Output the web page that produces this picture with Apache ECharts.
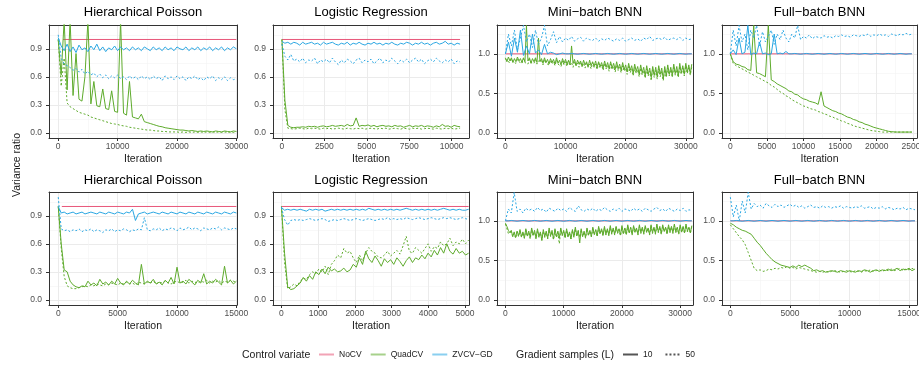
<!DOCTYPE html>
<html><head><meta charset="utf-8">
<script src="https://cdn.jsdelivr.net/npm/echarts@6/dist/echarts.min.js"></script>
<style>html,body{margin:0;padding:0;background:#fff}#c{width:919px;height:368px}</style>
</head><body><div id="c"></div>
<script>
// ---------------- DATA ----------------
const cvNames = ['NoCV', 'QuadCV', 'ZVCV\u2212GD'];
const lNames = ['10', '50'];
const panelTitles = ['Hierarchical Poisson', 'Logistic Regression', 'Mini\u2212batch BNN', 'Full\u2212batch BNN',
                     'Hierarchical Poisson', 'Logistic Regression', 'Mini\u2212batch BNN', 'Full\u2212batch BNN'];
// iteration spacing of the recorded values in each panel
const quadStep = [500, 175, 250, 400, 250, 85, 250, 250];
const zvStep = [500, 175, 500, 400, 250, 85, 500, 250];
// NoCV is constant at 1 over this iteration span
const nocvSpan = [[800, 30000], [0, 10500], [0, 31000], [0, 24800], [300, 15000], [0, 5100], [0, 32000], [0, 15500]];
const nocvValue = 1;
// axis tick labels
const xTicks = [
  [0, 10000, 20000, 30000], [0, 2500, 5000, 7500, 10000], [0, 10000, 20000, 30000], [0, 5000, 10000, 15000, 20000, 25000],
  [0, 5000, 10000, 15000], [0, 1000, 2000, 3000, 4000, 5000], [0, 10000, 20000, 30000], [0, 5000, 10000, 15000]];
const xMinorTicks = [
  [5000, 15000, 25000], [1250, 3750, 6250, 8750], [5000, 15000, 25000], [2500, 7500, 12500, 17500, 22500],
  [2500, 7500, 12500], [500, 1500, 2500, 3500, 4500], [5000, 15000, 25000], [2500, 7500, 12500]];
const xMin = [-1550, -525, -1400, -1130, -780, -230, -1450, -700];
const xMax = [30100, 11025, 31200, 25500, 15050, 5110, 32200, 15670];
const yTicksA = [0, 0.3, 0.6, 0.9], yMinorA = [0.15, 0.45, 0.75, 1.05];
const yTicksB = [0, 0.5, 1.0], yMinorB = [0.25, 0.75, 1.25];

// Panel 1: Hierarchical Poisson (top)
const hp1Quad10 = [1.0,0.62,1.2,0.46,1.2,0.40,0.85,0.36,0.34,0.60,1.2,0.31,0.55,0.29,0.28,0.47,0.26,0.25,0.45,0.23,0.22,1.2,0.21,0.19,0.55,0.17,0.16,0.15,0.20,0.12,0.11,0.10,0.09,0.08,0.07,0.065,0.055,0.05,0.045,0.04,0.035,0.03,0.03,0.025,0.02,0.025,0.02,0.015,0.02,0.015,0.02,0.015,0.01,0.02,0.015,0.01,0.02,0.015,0.01,0.02,0.015];
const hp1Quad50 = [1.0,0.50,0.80,0.32,0.28,0.26,0.24,0.22,0.21,0.20,0.19,0.17,0.16,0.15,0.14,0.13,0.12,0.11,0.10,0.095,0.09,0.08,0.075,0.07,0.06,0.055,0.05,0.045,0.04,0.035,0.03,0.03,0.025,0.02,0.02,0.015,0.015,0.01,0.01,0.01,0.01,0.005,0.01,0.005,0.01,0.005,0.01,0.005,0.01,0.005,0.01,0.005,0.01,0.005,0.01,0.005,0.01,0.005,0.01,0.005,0.01];
const hp1Zv10 = [1.02,0.93,0.88,0.95,0.87,0.92,0.86,0.94,0.89,0.91,0.87,0.93,0.89,0.95,0.88,0.92,0.87,0.91,0.89,0.93,0.88,0.92,0.89,0.91,0.88,0.92,0.89,0.91,0.88,0.92,0.90,0.88,0.92,0.89,0.91,0.88,0.92,0.89,0.91,0.88,0.92,0.90,0.89,0.92,0.88,0.91,0.89,0.92,0.88,0.91,0.89,0.92,0.88,0.91,0.89,0.92,0.88,0.91,0.89,0.92,0.90];
const hp1Zv50 = [1.05,0.80,0.74,0.72,0.70,0.67,0.69,0.65,0.68,0.63,0.66,0.62,0.64,0.60,0.63,0.59,0.62,0.58,0.61,0.59,0.62,0.58,0.60,0.57,0.61,0.58,0.60,0.57,0.61,0.58,0.60,0.57,0.61,0.58,0.60,0.56,0.61,0.58,0.60,0.57,0.61,0.58,0.60,0.56,0.60,0.58,0.61,0.57,0.59,0.56,0.60,0.58,0.61,0.56,0.59,0.57,0.60,0.56,0.59,0.57,0.58];

// Panel 2: Logistic Regression (top)
const lr1Quad10 = [1.0,0.35,0.08,0.06,0.055,0.06,0.06,0.065,0.06,0.07,0.065,0.07,0.06,0.07,0.075,0.065,0.07,0.08,0.07,0.075,0.08,0.07,0.09,0.075,0.08,0.16,0.07,0.08,0.075,0.085,0.07,0.08,0.065,0.075,0.08,0.07,0.075,0.065,0.08,0.07,0.075,0.06,0.07,0.08,0.065,0.075,0.07,0.08,0.065,0.075,0.07,0.06,0.075,0.065,0.09,0.07,0.075,0.06,0.08,0.07,0.065];
const lr1Quad50 = [1.0,0.25,0.05,0.045,0.04,0.045,0.05,0.045,0.04,0.05,0.045,0.05,0.045,0.04,0.05,0.045,0.05,0.04,0.045,0.05,0.045,0.04,0.05,0.045,0.04,0.05,0.045,0.05,0.04,0.045,0.05,0.045,0.04,0.05,0.045,0.05,0.04,0.045,0.05,0.045,0.04,0.05,0.045,0.04,0.05,0.045,0.05,0.04,0.045,0.05,0.045,0.04,0.05,0.045,0.04,0.05,0.045,0.05,0.04,0.045,0.05];
const lr1Zv10 = [0.98,0.96,0.97,0.95,0.97,0.96,0.94,0.97,0.95,0.96,0.97,0.95,0.96,0.94,0.97,0.95,0.96,0.97,0.95,0.94,0.96,0.95,0.97,0.94,0.96,0.95,0.97,0.95,0.94,0.96,0.95,0.97,0.95,0.96,0.94,0.96,0.95,0.97,0.95,0.94,0.96,0.95,0.97,0.96,0.94,0.96,0.95,0.97,0.95,0.96,0.94,0.96,0.97,0.95,0.96,0.98,0.95,0.96,0.94,0.96,0.95];
const lr1Zv50 = [0.95,0.82,0.78,0.84,0.77,0.79,0.76,0.80,0.75,0.78,0.77,0.80,0.74,0.78,0.76,0.79,0.75,0.80,0.76,0.73,0.78,0.75,0.79,0.77,0.74,0.78,0.80,0.75,0.78,0.76,0.79,0.74,0.77,0.80,0.75,0.78,0.76,0.80,0.77,0.74,0.78,0.76,0.79,0.75,0.78,0.80,0.76,0.79,0.74,0.77,0.79,0.76,0.80,0.77,0.75,0.78,0.76,0.79,0.74,0.77,0.76];

// Panel 3: Mini-batch BNN (top)
const mb1Quad10 = [0.95,0.9,0.96,0.91,0.95,0.89,0.94,0.9,0.96,0.91,
  0.94,0.89,0.95,0.9,1.36,0.91,0.95,0.88,0.94,0.9,
  0.95,0.89,1.2,0.9,0.94,0.88,0.95,0.89,0.93,0.87,
  0.94,0.89,0.93,0.87,0.95,0.88,0.92,0.86,0.94,0.88,
  0.93,0.87,0.92,0.86,1.1,0.88,0.93,0.85,0.92,0.87,
  0.91,0.84,0.92,0.86,0.9,0.83,0.92,0.85,0.9,0.84,
  0.91,0.83,0.9,0.84,0.89,0.82,0.91,0.83,0.89,0.81,
  0.9,0.82,0.88,0.8,0.9,0.81,0.87,0.79,0.89,0.8,
  0.86,0.77,0.88,0.79,0.85,0.75,0.87,0.78,0.84,0.74,
  0.86,0.76,0.83,0.72,0.85,0.74,0.82,0.7,0.84,0.73,
  0.83,0.71,0.85,0.74,0.82,0.68,0.84,0.72,0.86,0.74,
  0.83,0.73,0.87,0.75,0.84,0.72,0.88,0.76,0.85,0.74,
  0.88,0.77,0.86,0.75,0.87];
const mb1Quad50 = [0.94,0.91,0.93,0.89,0.94,0.9,0.92,0.88,0.93,0.9,
  0.92,0.88,0.94,0.89,0.91,0.87,0.93,0.89,0.91,0.88,
  0.93,0.87,0.91,0.89,0.92,0.86,0.93,0.88,0.9,0.86,
  0.92,0.87,0.9,0.85,0.92,0.87,0.89,0.84,0.91,0.86,
  0.9,0.84,0.91,0.86,0.89,0.83,0.9,0.85,0.88,0.83,
  0.9,0.84,0.88,0.82,0.89,0.84,0.87,0.81,0.89,0.83,
  0.87,0.8,0.88,0.82,0.86,0.79,0.88,0.81,0.85,0.78,
  0.87,0.8,0.84,0.77,0.86,0.79,0.83,0.76,0.85,0.78,
  0.82,0.74,0.84,0.76,0.81,0.72,0.83,0.75,0.8,0.71,
  0.82,0.73,0.79,0.69,0.81,0.72,0.78,0.66,0.8,0.7,
  0.79,0.68,0.81,0.71,0.78,0.66,0.8,0.7,0.82,0.72,
  0.8,0.7,0.83,0.73,0.8,0.7,0.84,0.74,0.82,0.72,
  0.85,0.75,0.83,0.73,0.84];
const mb1Zv10 = [1.0,1.15,0.97,1.2,1.02,1.3,0.98,1.1,1.0,1.25,1.01,1.05,0.99,1.12,1.0,1.02,1.01,0.99,1.0,1.01,1.0,1.0,1.005,1.0,0.995,1.0,1.005,1.0,0.995,1.0,1.005,1.0,0.995,1.0,1.005,1.0,0.995,1.0,1.005,1.0,0.995,1.0,1.005,1.0,0.995,1.0,1.005,1.0,0.995,1.0,1.005,1.0,0.995,1.0,1.005,1.0,0.995,1.0,1.005,1.0,0.995,1.0,1.0];
const mb1Zv50 = [1.0,1.25,1.1,1.3,1.05,1.2,1.36,1.15,1.25,1.08,1.3,1.12,1.2,1.36,1.1,1.18,1.28,1.14,1.22,1.15,1.2,1.17,1.22,1.16,1.19,1.21,1.16,1.2,1.18,1.17,1.2,1.16,1.19,1.17,1.2,1.18,1.16,1.19,1.17,1.2,1.16,1.18,1.2,1.17,1.19,1.16,1.2,1.18,1.22,1.17,1.19,1.2,1.18,1.21,1.17,1.19,1.2,1.18,1.21,1.17,1.2,1.18,1.19];

// Panel 4: Full-batch BNN (top)
const fb1Quad10 = [1.0,0.9,0.87,0.86,0.84,0.83,0.8,0.79,1.36,0.76,0.75,0.73,0.71,1.36,0.67,0.65,0.62,0.6,0.58,0.56,0.53,0.52,0.49,0.48,0.45,0.43,0.42,0.4,0.39,0.38,0.36,0.52,0.34,0.32,0.3,0.28,0.27,0.25,0.24,0.22,0.2,0.19,0.17,0.16,0.14,0.13,0.11,0.1,0.085,0.07,0.06,0.05,0.04,0.03,0.02,0.015,0.012,0.01,0.01,0.01,0.01,0.01,0.01];
const fb1Quad50 = [1.0,0.88,0.85,0.83,0.81,0.79,0.77,0.75,0.73,0.71,0.69,0.67,0.65,0.63,0.6,0.58,0.55,0.52,0.5,0.47,0.45,0.42,0.4,0.38,0.36,0.34,0.33,0.31,0.3,0.29,0.27,0.26,0.24,0.23,0.21,0.2,0.18,0.17,0.15,0.14,0.12,0.11,0.09,0.08,0.07,0.06,0.05,0.04,0.03,0.025,0.02,0.015,0.01,0.01,0.01,0.01,0.01,0.01,0.01,0.01,0.01,0.01,0.01];
const fb1Zv10 = [1.0,1.05,0.99,1.2,1.0,1.02,1.36,0.99,1.01,1.0,1.15,1.0,1.01,0.99,1.0,1.25,1.0,1.01,1.0,1.03,1.0,1.0,1.005,1.0,0.995,1.0,1.005,1.0,0.995,1.0,1.005,1.0,0.995,1.0,1.005,1.0,0.995,1.0,1.005,1.0,0.995,1.0,1.005,1.0,0.995,1.0,1.005,1.0,0.995,1.0,1.005,1.0,0.995,1.0,1.005,1.0,0.995,1.0,1.005,1.0,0.995,1.0,1.0];
const fb1Zv50 = [1.0,1.3,1.1,1.36,1.15,1.25,1.05,1.3,1.2,1.36,1.1,1.28,1.15,1.22,1.3,1.12,1.25,1.18,1.3,1.2,1.15,1.25,1.2,1.36,1.18,1.22,1.2,1.24,1.19,1.22,1.21,1.2,1.23,1.21,1.22,1.2,1.23,1.22,1.24,1.22,1.23,1.21,1.24,1.23,1.22,1.24,1.23,1.25,1.22,1.24,1.23,1.25,1.23,1.24,1.22,1.25,1.24,1.23,1.25,1.24,1.26,1.24,1.25];

// Panel 5: Hierarchical Poisson (bottom)
const hp2Quad10 = [1.0,0.6,0.32,0.3,0.2,0.16,0.14,0.13,0.15,0.14,0.2,0.16,0.18,0.15,0.22,0.17,0.19,0.16,0.2,0.17,0.23,0.18,0.16,0.2,0.17,0.21,0.18,0.16,0.38,0.17,0.2,0.18,0.22,0.17,0.19,0.16,0.21,0.18,0.24,0.17,0.35,0.18,0.2,0.17,0.22,0.19,0.16,0.21,0.18,0.28,0.17,0.2,0.18,0.22,0.19,0.16,0.36,0.18,0.21,0.17,0.2];
const hp2Quad50 = [1.0,0.55,0.25,0.15,0.13,0.12,0.12,0.13,0.14,0.15,0.14,0.16,0.15,0.17,0.16,0.15,0.17,0.16,0.18,0.17,0.16,0.18,0.17,0.19,0.17,0.18,0.16,0.19,0.18,0.17,0.19,0.18,0.2,0.17,0.19,0.18,0.2,0.18,0.17,0.19,0.2,0.18,0.19,0.21,0.18,0.2,0.19,0.18,0.2,0.19,0.21,0.18,0.2,0.19,0.21,0.18,0.2,0.19,0.21,0.2,0.19];
const hp2Zv10 = [1.0,0.93,0.94,0.92,0.93,0.94,0.92,0.93,0.94,0.92,0.93,0.94,0.93,0.92,0.94,0.93,0.92,0.94,0.93,0.92,0.94,0.93,0.92,0.94,0.93,0.97,0.85,0.92,0.93,0.94,0.92,0.93,0.94,0.93,0.92,0.94,0.93,0.92,0.94,0.93,0.92,0.94,0.93,0.92,0.94,0.93,0.92,0.94,0.93,0.92,0.94,0.93,0.92,0.94,0.93,0.92,0.94,0.93,0.92,0.94,0.93];
const hp2Zv50 = [1.1,0.76,0.74,0.75,0.73,0.75,0.74,0.76,0.73,0.75,0.74,0.76,0.73,0.75,0.74,0.72,0.75,0.74,0.76,0.73,0.75,0.74,0.76,0.75,0.73,0.75,0.74,0.76,0.75,0.88,0.75,0.74,0.76,0.75,0.77,0.74,0.76,0.75,0.77,0.76,0.74,0.77,0.75,0.76,0.78,0.75,0.77,0.76,0.74,0.77,0.76,0.75,0.77,0.76,0.78,0.75,0.77,0.76,0.75,0.77,0.76];

// Panel 6: Logistic Regression (bottom)
const lr2Quad10 = [1.0,0.5,0.14,0.11,0.12,0.15,0.18,0.24,0.2,0.26,0.22,0.3,0.27,0.33,0.28,0.35,0.31,0.33,0.3,0.31,0.34,0.3,0.32,0.38,0.35,0.45,0.38,0.52,0.44,0.4,0.47,0.42,0.36,0.44,0.4,0.43,0.38,0.45,0.41,0.36,0.42,0.46,0.4,0.45,0.43,0.48,0.44,0.5,0.46,0.53,0.48,0.56,0.5,0.6,0.52,0.49,0.55,0.5,0.52,0.48,0.5];
const lr2Quad50 = [1.0,0.4,0.12,0.14,0.17,0.15,0.2,0.23,0.22,0.27,0.3,0.28,0.33,0.3,0.36,0.27,0.38,0.42,0.48,0.45,0.55,0.5,0.52,0.45,0.4,0.48,0.42,0.5,0.56,0.52,0.5,0.46,0.45,0.48,0.52,0.47,0.5,0.53,0.49,0.58,0.68,0.52,0.5,0.56,0.53,0.5,0.55,0.6,0.52,0.57,0.55,0.62,0.58,0.6,0.66,0.58,0.62,0.6,0.65,0.6,0.64];
const lr2Zv10 = [0.99,0.96,0.97,0.96,0.97,0.96,0.97,0.96,0.95,0.97,0.96,0.97,0.96,0.97,0.95,0.96,0.97,0.96,0.97,0.96,0.97,0.96,0.97,0.96,0.97,0.96,0.97,0.96,0.98,0.97,0.96,0.97,0.96,0.97,0.96,0.97,0.96,0.97,0.96,0.97,0.98,0.97,0.96,0.97,0.96,0.97,0.96,0.97,0.96,0.97,0.96,0.97,0.98,0.97,0.96,0.97,0.96,0.97,0.96,0.96,0.97];
const lr2Zv50 = [0.99,0.86,0.8,0.85,0.86,0.85,0.86,0.85,0.86,0.87,0.86,0.85,0.86,0.87,0.86,0.84,0.85,0.86,0.85,0.86,0.87,0.86,0.85,0.86,0.87,0.86,0.85,0.86,0.87,0.86,0.85,0.86,0.87,0.86,0.88,0.86,0.87,0.86,0.87,0.86,0.88,0.87,0.86,0.87,0.88,0.87,0.86,0.87,0.88,0.87,0.86,0.87,0.88,0.87,0.88,0.87,0.86,0.87,0.88,0.87,0.86];

// Panel 7: Mini-batch BNN (bottom)
const mb2Quad10 = [0.97,0.93,0.88,0.85,0.88,0.8,0.86,0.79,0.87,0.81,
  0.89,0.8,0.86,0.78,0.9,0.81,0.87,0.79,0.91,0.82,
  0.88,0.78,0.9,0.8,0.86,0.75,0.89,0.8,0.87,0.78,
  0.91,0.81,0.88,0.77,0.9,0.8,0.87,0.78,0.91,0.82,
  0.88,0.79,0.9,0.8,0.86,0.77,0.89,0.8,0.92,0.81,
  0.88,0.72,0.9,0.8,0.87,0.79,0.91,0.82,0.88,0.8,
  0.92,0.83,0.89,0.81,0.93,0.84,0.9,0.82,0.93,0.83,
  0.9,0.82,0.94,0.84,0.91,0.83,0.93,0.85,0.9,0.82,
  0.94,0.84,0.91,0.83,0.95,0.85,0.92,0.83,0.94,0.86,
  0.91,0.83,0.95,0.85,0.92,0.84,0.94,0.86,0.91,0.83,
  0.95,0.85,0.92,0.84,0.96,0.86,0.93,0.84,0.95,0.87,
  0.92,0.84,0.95,0.86,0.93,0.85,0.96,0.86,0.92,0.84,
  0.95,0.86,0.93,0.85,0.96,0.87,0.92,0.85,0.94];
const mb2Quad50 = [0.96,0.9,0.84,0.82,0.86,0.8,0.84,0.78,0.86,0.8,
  0.87,0.79,0.85,0.78,0.88,0.8,0.85,0.77,0.89,0.81,
  0.86,0.77,0.88,0.79,0.85,0.76,0.87,0.79,0.85,0.77,
  0.89,0.8,0.86,0.76,0.88,0.79,0.85,0.71,0.89,0.81,
  0.86,0.78,0.88,0.79,0.85,0.77,0.88,0.79,0.9,0.8,
  0.87,0.79,0.89,0.8,0.86,0.78,0.9,0.81,0.87,0.8,
  0.9,0.82,0.88,0.8,0.91,0.83,0.89,0.81,0.91,0.82,
  0.89,0.81,0.92,0.83,0.9,0.82,0.92,0.84,0.89,0.81,
  0.92,0.83,0.9,0.82,0.93,0.84,0.91,0.82,0.92,0.85,
  0.9,0.82,0.93,0.84,0.91,0.83,0.92,0.85,0.9,0.82,
  0.93,0.84,0.91,0.83,0.94,0.85,0.92,0.83,0.93,0.86,
  0.91,0.83,0.93,0.85,0.92,0.84,0.94,0.85,0.91,0.83,
  0.93,0.85,0.92,0.84,0.94,0.86,0.91,0.84,0.93];
const mb2Zv10 = [1.0,1.0,1.005,1.0,0.995,1.0,1.005,1.0,0.995,1.0,1.005,1.0,0.995,1.0,1.005,1.0,0.995,1.0,1.005,1.0,0.995,1.0,1.005,1.0,0.995,1.0,1.005,1.0,0.995,1.0,1.005,1.0,0.995,1.0,1.005,1.0,0.995,1.0,1.005,1.0,0.995,1.0,1.005,1.0,0.995,1.0,1.005,1.0,0.995,1.0,1.005,1.0,0.995,1.0,1.005,1.0,0.995,1.0,1.005,1.0,0.995,1.0,1.005,1.0,1.0];
const mb2Zv50 = [1.0,1.15,1.1,1.36,1.12,1.15,1.1,1.16,1.13,1.15,1.12,1.17,1.13,1.15,1.11,1.16,1.14,1.12,1.16,1.13,1.15,1.12,1.17,1.14,1.12,1.19,1.14,1.12,1.15,1.13,1.16,1.12,1.15,1.13,1.17,1.14,1.12,1.15,1.13,1.16,1.12,1.15,1.14,1.12,1.16,1.13,1.15,1.12,1.16,1.14,1.12,1.15,1.17,1.13,1.15,1.12,1.16,1.14,1.12,1.15,1.13,1.16,1.12,1.14,1.13];

// Panel 8: Full-batch BNN (bottom)
const fb2Quad10 = [0.97,0.95,0.92,0.9,0.88,0.87,0.85,0.83,0.78,0.73,0.69,0.64,0.59,0.55,0.51,0.48,0.46,0.44,0.43,0.42,0.41,0.43,0.41,0.44,0.42,0.44,0.42,0.4,0.37,0.38,0.36,0.37,0.35,0.36,0.37,0.36,0.35,0.37,0.36,0.35,0.37,0.36,0.35,0.37,0.36,0.38,0.37,0.35,0.37,0.38,0.36,0.38,0.37,0.39,0.37,0.38,0.4,0.37,0.39,0.38,0.4,0.37,0.39];
const fb2Quad50 = [0.95,0.9,0.85,0.8,0.76,0.7,0.6,0.5,0.4,0.37,0.38,0.36,0.37,0.39,0.38,0.4,0.39,0.41,0.4,0.42,0.4,0.41,0.39,0.41,0.4,0.39,0.38,0.37,0.36,0.35,0.36,0.35,0.36,0.35,0.36,0.37,0.36,0.35,0.36,0.37,0.36,0.35,0.37,0.36,0.35,0.37,0.36,0.38,0.36,0.37,0.38,0.36,0.38,0.37,0.39,0.37,0.38,0.4,0.37,0.39,0.38,0.4,0.38];
const fb2Zv10 = [1.0,1.0,1.005,1.0,0.995,1.0,1.005,1.0,0.995,1.0,1.005,1.0,0.995,1.0,1.005,1.0,0.995,1.0,1.005,1.0,0.995,1.0,1.005,1.0,0.995,1.0,1.005,1.0,0.995,1.0,1.005,1.0,0.995,1.0,1.005,1.0,0.995,1.0,1.005,1.0,0.995,1.0,1.005,1.0,0.995,1.0,1.005,1.0,0.995,1.0,1.005,1.0,0.995,1.0,1.005,1.0,0.995,1.0,1.005,1.0,0.995,1.0,1.0];
const fb2Zv50 = [1.3,1.05,1.2,1.0,1.25,1.1,1.36,1.15,1.22,1.18,1.2,1.16,1.22,1.19,1.17,1.21,1.18,1.2,1.17,1.19,1.21,1.18,1.2,1.17,1.19,1.16,1.18,1.2,1.17,1.18,1.16,1.19,1.17,1.18,1.16,1.18,1.17,1.19,1.16,1.18,1.17,1.16,1.18,1.17,1.19,1.16,1.17,1.18,1.15,1.17,1.16,1.18,1.15,1.17,1.16,1.14,1.16,1.15,1.17,1.14,1.16,1.15,1.14];

// ---------------- CHART ----------------
const FONT = '"Liberation Sans", Arial, Helvetica, sans-serif';
const colNoCV = '#e8577a', colQuad = '#5eab2c', colZv = '#2aa7e3';
const dotted = [2, 2];
const quad10 = [hp1Quad10, lr1Quad10, mb1Quad10, fb1Quad10, hp2Quad10, lr2Quad10, mb2Quad10, fb2Quad10];
const quad50 = [hp1Quad50, lr1Quad50, mb1Quad50, fb1Quad50, hp2Quad50, lr2Quad50, mb2Quad50, fb2Quad50];
const zv10 = [hp1Zv10, lr1Zv10, mb1Zv10, fb1Zv10, hp2Zv10, lr2Zv10, mb2Zv10, fb2Zv10];
const zv50 = [hp1Zv50, lr1Zv50, mb1Zv50, fb1Zv50, hp2Zv50, lr2Zv50, mb2Zv50, fb2Zv50];

const colLeft = [49, 273, 497, 722], colRight = [237, 469, 693, 917];
const rowTop = [25, 192], rowH = 113;

const grids = [], xAxes = [], yAxes = [], series = [], graphics = [];
function toPairs(vals, step) { return vals.map((v, i) => [i * step, v]); }

for (let p = 0; p < 8; p++) {
  const c = p % 4, r = Math.floor(p / 4);
  const isBNN = (c >= 2);
  grids.push({ left: colLeft[c], top: rowTop[r], width: colRight[c] - colLeft[c], height: rowH, outerBoundsMode: 'none' });
  const yMin = isBNN ? -0.065 : -0.055, yMax = isBNN ? 1.365 : 1.155;
  const yT = isBNN ? yTicksB : yTicksA, yM = isBNN ? yMinorB : yMinorA;
  xAxes.push({
    gridIndex: p, type: 'value', min: xMin[p], max: xMax[p], position: 'bottom',
    axisLine: { show: true, onZero: false, lineStyle: { color: '#333', width: 1 } },
    axisTick: { show: true, length: 3, customValues: xTicks[p], lineStyle: { color: '#333', width: 1 } },
    axisLabel: { customValues: xTicks[p], fontSize: 8.5, color: '#4d4d4d', margin: 4, fontFamily: FONT, formatter: v => String(v) },
    splitLine: { show: true, lineStyle: { color: '#ebebeb', width: 1 } },
    name: 'Iteration', nameLocation: 'middle', nameGap: 16,
    nameTextStyle: { fontSize: 10.5, color: '#1a1a1a', fontFamily: FONT, verticalAlign: 'top' }
  });
  xAxes.push({
    gridIndex: p, type: 'value', min: xMin[p], max: xMax[p], position: 'top',
    axisLine: { show: true, onZero: false, lineStyle: { color: '#333', width: 1 } },
    axisTick: { show: false, customValues: xMinorTicks[p] },
    axisLabel: { show: false, customValues: xMinorTicks[p] },
    splitLine: { show: true, lineStyle: { color: '#f4f4f4', width: 0.6 } }
  });
  yAxes.push({
    gridIndex: p, type: 'value', min: yMin, max: yMax, position: 'left',
    axisLine: { show: true, onZero: false, lineStyle: { color: '#333', width: 1 } },
    axisTick: { show: true, length: 3, customValues: yT, lineStyle: { color: '#333', width: 1 } },
    axisLabel: { customValues: yT, fontSize: 8.5, color: '#4d4d4d', margin: 7, fontFamily: FONT, formatter: v => v.toFixed(1) },
    splitLine: { show: true, lineStyle: { color: '#ebebeb', width: 1 } }
  });
  yAxes.push({
    gridIndex: p, type: 'value', min: yMin, max: yMax, position: 'right',
    axisLine: { show: true, onZero: false, lineStyle: { color: '#333', width: 1 } },
    axisTick: { show: false, customValues: yM },
    axisLabel: { show: false, customValues: yM },
    splitLine: { show: true, lineStyle: { color: '#f4f4f4', width: 0.6 } }
  });
  const xi = 2 * p, yi = 2 * p;
  const base = { type: 'line', xAxisIndex: xi, yAxisIndex: yi, symbol: 'none', showSymbol: false, animation: false, silent: true, clip: true };
  series.push(Object.assign({}, base, { name: cvNames[0], data: nocvSpan[p].map(x => [x, nocvValue]), color: colNoCV, lineStyle: { color: colNoCV, width: 1 } }));
  series.push(Object.assign({}, base, { name: cvNames[1], data: toPairs(quad10[p], quadStep[p]), color: colQuad, lineStyle: { color: colQuad, width: 1 } }));
  series.push(Object.assign({}, base, { name: cvNames[1], data: toPairs(quad50[p], quadStep[p]), color: colQuad, lineStyle: { color: colQuad, width: 1, type: dotted } }));
  series.push(Object.assign({}, base, { name: cvNames[2], data: toPairs(zv10[p], zvStep[p]), color: colZv, lineStyle: { color: colZv, width: 1 } }));
  series.push(Object.assign({}, base, { name: cvNames[2], data: toPairs(zv50[p], zvStep[p]), color: colZv, lineStyle: { color: colZv, width: 1, type: dotted } }));

  graphics.push({ type: 'text', x: (colLeft[c] + colRight[c]) / 2, y: r === 0 ? 12.5 : 180,
    style: { text: panelTitles[p], fontSize: 13, fill: '#000', fontFamily: FONT, align: 'center', verticalAlign: 'middle' } });
}
series.push({ type: 'line', name: lNames[0], data: [], xAxisIndex: 0, yAxisIndex: 0, symbol: 'none', color: '#555', lineStyle: { color: '#555', width: 1 } });
series.push({ type: 'line', name: lNames[1], data: [], xAxisIndex: 0, yAxisIndex: 0, symbol: 'none', color: '#555', lineStyle: { color: '#555', width: 1, type: dotted } });

graphics.push({ type: 'text', x: 17, y: 165, rotation: Math.PI / 2,
  style: { text: 'Variance ratio', fontSize: 10.5, fill: '#1a1a1a', fontFamily: FONT, align: 'center', verticalAlign: 'middle' } });
graphics.push({ type: 'text', x: 242, y: 355,
  style: { text: 'Control variate', fontSize: 10.5, fill: '#1a1a1a', fontFamily: FONT, align: 'left', verticalAlign: 'middle' } });
graphics.push({ type: 'text', x: 516, y: 355,
  style: { text: 'Gradient samples (L)', fontSize: 10.5, fill: '#1a1a1a', fontFamily: FONT, align: 'left', verticalAlign: 'middle' } });

const chart = echarts.init(document.getElementById('c'), null, { renderer: 'canvas' });
chart.setOption({
  animation: false,
  backgroundColor: '#fff',
  grid: grids, xAxis: xAxes, yAxis: yAxes, series: series, graphic: graphics,
  legend: [
    { data: cvNames, left: 318, top: 350, padding: 0, itemWidth: 15, itemHeight: 10, itemGap: 8, selectedMode: false,
      itemStyle: { opacity: 0 }, lineStyle: { opacity: 0.55 },
      textStyle: { fontSize: 8.5, color: '#1a1a1a', fontFamily: FONT } },
    { data: lNames, left: 622, top: 350, padding: 0, itemWidth: 15, itemHeight: 10, itemGap: 12, selectedMode: false,
      itemStyle: { opacity: 0 },
      textStyle: { fontSize: 8.5, color: '#1a1a1a', fontFamily: FONT } }
  ]
});
</script></body></html>
